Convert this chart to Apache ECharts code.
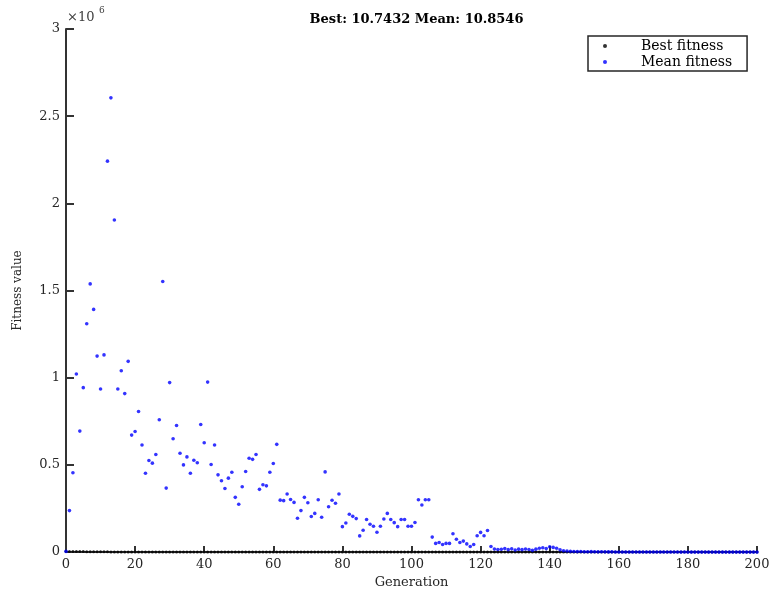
<!DOCTYPE html>
<html>
<head>
<meta charset="utf-8">
<script src="https://cdn.jsdelivr.net/npm/echarts@6/dist/echarts.min.js"></script>
<style>
html,body{margin:0;padding:0;background:#fff;}
#chart{width:774px;height:594px;}
</style>
</head>
<body>
<div id="chart"></div>
<script>
const titleText = 'Best: 10.7432 Mean: 10.8546';
const xTicks = [0, 20, 40, 60, 80, 100, 120, 140, 160, 180, 200];
const yTicks = ['0', '0.5', '1', '1.5', '2', '2.5', '3'];
const seriesNames = ['Best fitness', 'Mean fitness'];

const bestFitness = [
  4820.5, 3611.2, 3611.2, 2904.7, 2904.7, 2904.7, 2105.3, 2105.3, 1876.4, 1876.4,
  1402.8, 1402.8, 1402.8, 1215.6, 987.3, 987.3, 812.9, 812.9, 812.9, 640.2,
  640.2, 511.7, 511.7, 433.5, 433.5, 433.5, 352.8, 352.8, 298.4, 298.4,
  241.6, 241.6, 241.6, 198.3, 198.3, 167.9, 167.9, 167.9, 142.1, 142.1,
  120.7, 120.7, 120.7, 104.5, 104.5, 104.5, 91.2, 91.2, 80.6, 80.6,
  71.4, 71.4, 71.4, 63.8, 63.8, 57.2, 57.2, 57.2, 51.9, 51.9,
  47.3, 47.3, 43.1, 43.1, 43.1, 39.6, 39.6, 36.4, 36.4, 36.4,
  33.7, 33.7, 31.2, 31.2, 29.0, 29.0, 29.0, 27.1, 27.1, 25.4,
  25.4, 23.9, 23.9, 23.9, 22.5, 22.5, 21.2, 21.2, 20.1, 20.1,
  19.0, 19.0, 18.1, 18.1, 17.2, 17.2, 16.4, 16.4, 15.7, 15.7,
  15.1, 15.1, 14.5, 14.5, 14.0, 14.0, 13.5, 13.5, 13.1, 13.1,
  12.7, 12.7, 12.4, 12.4, 12.1, 12.1, 11.8, 11.8, 11.6, 11.6,
  11.4, 11.4, 11.2, 11.2, 11.05, 11.05, 10.93, 10.93, 10.85, 10.85,
  10.81, 10.81, 10.79, 10.79, 10.77, 10.77, 10.76, 10.76, 10.755, 10.755,
  10.75, 10.75, 10.748, 10.748, 10.746, 10.746, 10.745, 10.745, 10.7443, 10.7443,
  10.7432, 10.7432, 10.7432, 10.7432, 10.7432, 10.7432, 10.7432, 10.7432, 10.7432, 10.7432,
  10.7432, 10.7432, 10.7432, 10.7432, 10.7432, 10.7432, 10.7432, 10.7432, 10.7432, 10.7432,
  10.7432, 10.7432, 10.7432, 10.7432, 10.7432, 10.7432, 10.7432, 10.7432, 10.7432, 10.7432,
  10.7432, 10.7432, 10.7432, 10.7432, 10.7432, 10.7432, 10.7432, 10.7432, 10.7432, 10.7432,
  10.7432, 10.7432, 10.7432, 10.7432, 10.7432, 10.7432, 10.7432, 10.7432, 10.7432, 10.7432,
  10.7432
];

const meanFitness = [
  4000, 238000, 455000, 1021000, 694000, 943000, 1310000, 1538000, 1392000, 1124000,
  935000, 1131000, 2242000, 2605000, 1905000, 935000, 1040000, 909000, 1094000, 671000,
  692000, 806000, 614000, 452000, 525000, 510000, 560000, 759000, 1552000, 367000,
  972000, 650000, 726000, 567000, 500000, 546000, 452000, 527000, 512000, 732000,
  627000, 975000, 502000, 614000, 443000, 409000, 365000, 424000, 458000, 314000,
  274000, 375000, 462000, 538000, 532000, 560000, 360000, 386000, 380000, 458000,
  508000, 618000, 298000, 295000, 333000, 302000, 285000, 194000, 238000, 314000,
  283000, 204000, 222000, 300000, 200000, 460000, 260000, 297000, 280000, 333000,
  146000, 167000, 217000, 205000, 192000, 93000, 125000, 187000, 160000, 148000,
  114000, 148000, 190000, 222000, 187000, 169000, 146000, 187000, 187000, 148000,
  148000, 170000, 300000, 270000, 300000, 300000, 86000, 50000, 55000, 44000,
  50000, 50000, 105000, 74000, 55000, 63000, 47000, 32000, 44000, 94000,
  113000, 94000, 124000, 32000, 18000, 15000, 16000, 21000, 14000, 19000,
  12000, 17000, 14000, 18000, 15000, 10000, 17000, 22000, 25000, 20000,
  31000, 27000, 22000, 13000, 8000, 6000, 4200, 3500, 2800, 3100,
  2400, 2000, 2600, 1800, 1500, 1900, 1300, 1100, 1400, 900,
  800, 1000, 700, 600, 750, 520, 430, 600, 380, 320,
  410, 280, 240, 300, 210, 180, 220, 150, 130, 160,
  110, 95, 120, 80, 70, 85, 60, 52, 64, 45,
  38, 42, 30, 26, 28, 21, 18, 19, 15, 12.6,
  10.8546
];

const FONT = 'DejaVu Serif';
const chart = echarts.init(document.getElementById('chart'), null, {renderer: 'canvas'});

const toPairs = arr => arr.map((v, i) => [i, v]);

const option = {
  animation: false,
  backgroundColor: '#ffffff',
  title: {
    text: titleText,
    left: 411.5,
    textAlign: 'center',
    top: 8,
    textStyle: {fontFamily: FONT, fontSize: 13, fontWeight: 'bold', color: '#000'}
  },
  grid: {left: 66, right: 17, top: 29, bottom: 39, containLabel: false},
  legend: {
    orient: 'vertical',
    left: 588,
    top: 36,
    padding: [3, 15, 2, 15],
    itemGap: 2,
    itemWidth: 4,
    itemHeight: 4,
    icon: 'circle',
    borderColor: '#262626',
    borderWidth: 1.5,
    backgroundColor: '#fff',
    data: seriesNames,
    formatter: name => '{t|' + name + '}',
    textStyle: {
      fontFamily: FONT, fontSize: 14, color: '#000',
      rich: {t: {fontFamily: FONT, fontSize: 14, lineHeight: 15, padding: [0, 0, 0, 29], color: '#000'}}
    }
  },
  xAxis: {
    type: 'value',
    min: xTicks[0],
    max: xTicks[xTicks.length - 1],
    interval: 20,
    name: 'Generation',
    nameLocation: 'middle',
    nameGap: 23,
    nameTextStyle: {fontFamily: FONT, fontSize: 13, color: '#262626'},
    axisLine: {show: true, lineStyle: {color: '#333', width: 2}},
    axisTick: {show: true, inside: true, length: 6, lineStyle: {color: '#333', width: 2}},
    axisLabel: {fontFamily: FONT, fontSize: 13, color: '#262626', margin: 6},
    splitLine: {show: false}
  },
  yAxis: {
    type: 'value',
    min: 0,
    max: 3000000,
    interval: 500000,
    name: 'Fitness value',
    nameLocation: 'middle',
    nameGap: 42,
    nameRotate: 90,
    nameTextStyle: {fontFamily: FONT, fontSize: 12, color: '#262626'},
    axisLine: {show: true, lineStyle: {color: '#333', width: 2}},
    axisTick: {show: true, inside: true, length: 8, lineStyle: {color: '#333', width: 2}},
    axisLabel: {
      fontFamily: FONT, fontSize: 13, color: '#262626', margin: 6,
      formatter: v => yTicks[Math.round(v / 500000)]
    },
    splitLine: {show: false}
  },
  graphic: [
    {type: 'text', left: 67, top: 11, style: {text: '\u00d710', fontFamily: FONT, fontSize: 13, fill: '#404040'}},
    {type: 'text', left: 99, top: 6, style: {text: '6', fontFamily: FONT, fontSize: 9, fill: '#404040'}}
  ],
  series: [
    {
      name: seriesNames[0],
      type: 'scatter',
      data: toPairs(bestFitness),
      symbol: 'circle',
      symbolSize: 3,
      itemStyle: {color: '#000000'},
      z: 2
    },
    {
      name: seriesNames[1],
      type: 'scatter',
      data: toPairs(meanFitness),
      symbol: 'circle',
      symbolSize: 3.6,
      itemStyle: {color: '#0000ff'},
      z: 3
    }
  ]
};
chart.setOption(option);
</script>
</body>
</html>
